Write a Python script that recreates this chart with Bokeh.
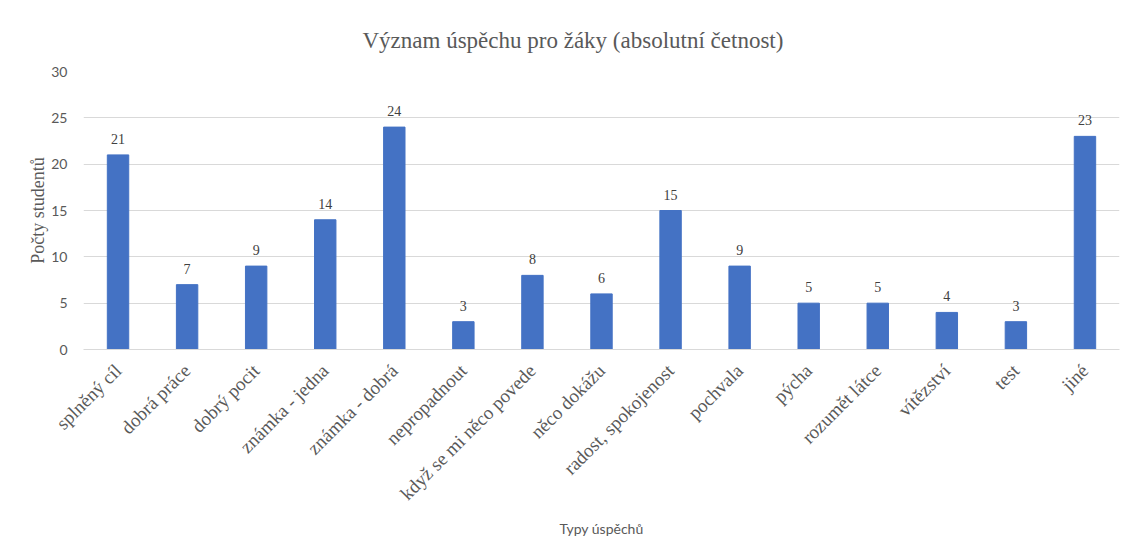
import math
from bokeh.plotting import figure
from bokeh.models import ColumnDataSource, FactorRange, Range1d, FixedTicker
from bokeh.core.properties import value
from bokeh.embed import file_html
from bokeh.resources import INLINE

categories = ["splněný cíl", "dobrá práce", "dobrý pocit", "známka - jedna", "známka - dobrá",
              "nepropadnout", "když se mi něco povede", "něco dokážu", "radost, spokojenost",
              "pochvala", "pýcha", "rozumět látce", "vítězství", "test", "jiné"]
counts = [21, 7, 9, 14, 24, 3, 8, 6, 15, 9, 5, 5, 4, 3, 23]
y_ticks = [0, 5, 10, 15, 20, 25, 30]

title_text = "Význam úspěchu pro žáky (absolutní četnost)"
x_label = "Typy úspěchů"
y_label = "Počty studentů"

SERIF = "Liberation Serif"
SANS = "Lato"
GRAY = "#595959"

src = ColumnDataSource(dict(cat=categories, val=counts, lbl=[str(v) for v in counts]))

p = figure(width=1120, height=543, output_backend="svg", toolbar_location=None,
           x_range=FactorRange(factors=categories, range_padding=0),
           y_range=Range1d(0, 30),
           min_border_left=83, min_border_right=1, min_border_top=71, min_border_bottom=194)

p.vbar(x="cat", top="val", width=0.31, source=src, fill_color="#4472C4", line_color="#4472C4")
p.text(x="cat", y="val", text="lbl", source=src, text_align="center", text_baseline="alphabetic",
       y_offset=-16, text_font=value(SERIF), text_font_size="14px", text_color="#404040")

p.title.text = title_text
p.title.align = "left"
p.title.offset = 279
p.title.text_font = SERIF
p.title.text_font_size = "23px"
p.title.text_font_style = "normal"
p.title.text_color = GRAY
p.title.standoff = 37

p.outline_line_color = None
p.xgrid.grid_line_color = None
p.ygrid.grid_line_color = "#D9D9D9"
p.ygrid.ticker = FixedTicker(ticks=y_ticks)

p.yaxis.ticker = FixedTicker(ticks=y_ticks)
p.yaxis.axis_line_color = None
p.yaxis.major_tick_line_color = None
p.yaxis.minor_tick_line_color = None
p.yaxis.major_label_standoff = 10
p.yaxis.major_label_text_font = SANS
p.yaxis.major_label_text_font_size = "14px"
p.yaxis.major_label_text_color = GRAY
p.yaxis.axis_label = y_label
p.yaxis.axis_label_text_font = SERIF
p.yaxis.axis_label_text_font_size = "18px"
p.yaxis.axis_label_text_font_style = "normal"
p.yaxis.axis_label_text_color = GRAY
p.yaxis.axis_label_standoff = 0

p.xaxis.axis_line_color = "#D9D9D9"
p.xaxis.major_tick_line_color = None
p.xaxis.minor_tick_line_color = None
p.xaxis.major_label_orientation = math.pi / 4
p.xaxis.major_label_standoff = 12
p.xaxis.major_label_text_font = SERIF
p.xaxis.major_label_text_font_size = "19px"
p.xaxis.major_label_text_color = GRAY
p.xaxis.axis_label = x_label
p.xaxis.axis_label_text_font = SANS
p.xaxis.axis_label_text_font_size = "14px"
p.xaxis.axis_label_text_font_style = "normal"
p.xaxis.axis_label_text_color = GRAY
p.xaxis.axis_label_standoff = 6

open("out.html", "w").write(file_html(p, INLINE))
